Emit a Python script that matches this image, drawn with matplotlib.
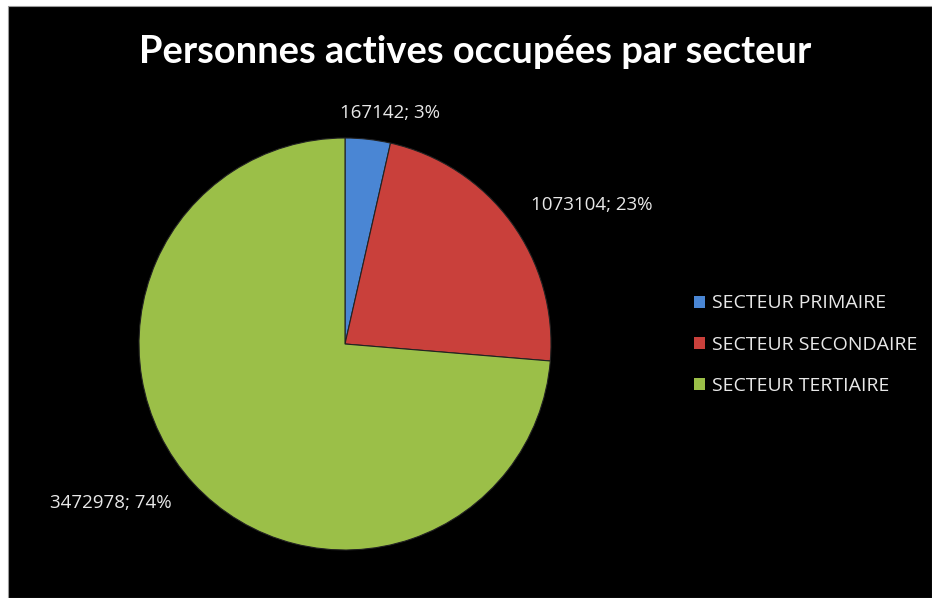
import matplotlib
matplotlib.use('Agg')
import numpy as np
import matplotlib.pyplot as plt
from matplotlib.patches import Rectangle

sectors = ['SECTEUR PRIMAIRE', 'SECTEUR SECONDAIRE', 'SECTEUR TERTIAIRE']
workers = [167142, 1073104, 3472978]
pct_shown = [3, 23, 74]   # percentages as printed on the chart
colors = ['#4a86d4', '#c9403b', '#9bbf48']

W, H = 932, 598
fig = plt.figure(figsize=(W / 100, H / 100), dpi=100, facecolor='white')
# black chart area, white strip on top and left
fig.patches.append(Rectangle((8 / W, 0), 1 - 8 / W, 1 - 6 / H, transform=fig.transFigure,
                             facecolor='black', edgecolor='#9a9a9a', lw=0.8, zorder=-5))

fig.text(475 / W, 1 - 52 / H, 'Personnes actives occupées par secteur', color='white',
         fontsize=27.4, fontweight='bold', family='Lato', ha='center', va='center')

cx, cy, r = 345, 344, 206
ax = fig.add_axes([(cx - r) / W, (H - cy - r) / H, 2 * r / W, 2 * r / H])
ax.set_facecolor('none')
wedges, _ = ax.pie(workers, colors=colors, startangle=90, counterclock=False,
                   wedgeprops=dict(edgecolor='#222222', linewidth=0.8))
ax.set_xlim(-1, 1)
ax.set_ylim(-1, 1)
ax.axis('off')

# data labels "value; pct", nudged like Excel's best fit
lab_r = [1.142, 1.376, 1.373]
lab_da = [-4.6, -6.9, -8.4]
for w, v, p, lr, da in zip(wedges, workers, pct_shown, lab_r, lab_da):
    a = np.deg2rad((w.theta1 + w.theta2) / 2 + da)
    ax.text(lr * np.cos(a), lr * np.sin(a), '%d; %d%%' % (v, p),
            color='#e8e8e8', fontsize=13.5, family='Open Sans', ha='center', va='center',
            clip_on=False)

leg = fig.legend(wedges, sectors, loc='upper left', bbox_to_anchor=(676 / W, 1 - 277 / H),
                 frameon=False, labelcolor='#e8e8e8', handlelength=0.58, handleheight=0.58,
                 handletextpad=0.35, labelspacing=1.2, prop=dict(family='Open Sans', size=14))
for h in leg.legend_handles:
    h.set_edgecolor('none')

fig.savefig('out.png', dpi=100, facecolor=fig.get_facecolor())
